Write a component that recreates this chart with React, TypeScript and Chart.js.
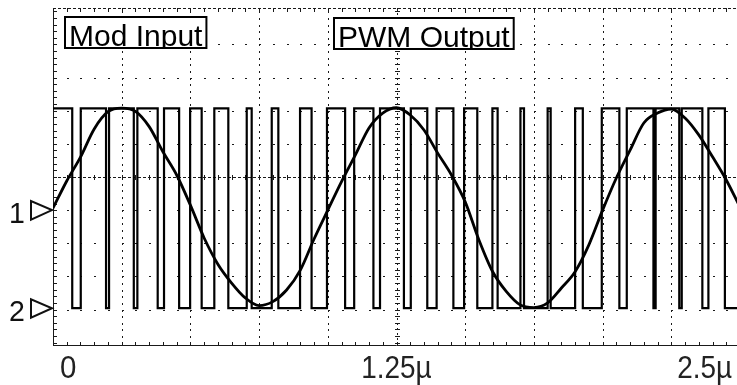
import { useEffect, useRef } from "react";
import { Chart, registerables } from "chart.js";

Chart.register(...registerables);

// ---- data (time in µs, levels in graticule divisions) ----
const sineTimes = [
  0, 0.05, 0.1, 0.15, 0.2, 0.25, 0.3, 0.35, 0.4, 0.45, 0.5, 0.55, 0.6, 0.65, 0.7, 0.75, 0.8,
  0.85, 0.9, 0.95, 1.0, 1.05, 1.1, 1.15, 1.2, 1.25, 1.3, 1.35, 1.4, 1.45, 1.5, 1.55, 1.6, 1.65,
  1.7, 1.75, 1.8, 1.85, 1.9, 1.95, 2.0, 2.05, 2.1, 2.15, 2.2, 2.25, 2.3, 2.35, 2.4, 2.45, 2.5,
];
const sineValues = [
  4.06, 4.88, 5.6, 6.45, 6.97, 7.08, 6.98, 6.52, 5.76, 5.06, 4.15, 3.16, 2.37, 1.8, 1.35, 1.12,
  1.24, 1.59, 2.19, 3.13, 4.0, 4.86, 5.66, 6.48, 6.93, 7.09, 6.87, 6.42, 5.72, 5.06, 4.25, 3.1,
  2.14, 1.54, 1.14, 1.06, 1.2, 1.65, 2.14, 2.95, 4.0, 4.97, 5.81, 6.63, 6.93, 7.05, 6.78, 6.27,
  5.61, 4.91, 4.09,
];
// PWM switching instants (µs), alternating high->low, low->high, starting high
const pwmEdges = [
  0.07, 0.101, 0.193, 0.204, 0.294, 0.307, 0.381, 0.404, 0.459, 0.499, 0.541, 0.587, 0.638, 0.705,
  0.723, 0.796, 0.82, 0.899, 0.941, 0.997, 1.063, 1.096, 1.166, 1.19, 1.277, 1.302, 1.362, 1.396,
  1.457, 1.496, 1.544, 1.599, 1.618, 1.701, 1.714, 1.8, 1.811, 1.9, 1.928, 1.997, 2.061, 2.088,
  2.185, 2.193, 2.279, 2.288, 2.363, 2.385, 2.445,
];
const pwmHigh = 7.07;
const pwmLow = 1.04;
const pwmStartsHigh = true;
const timeEnd = 2.5;

const traceLabels = ["Mod Input", "PWM Output"];
const channelMarkers = ["1", "2"];
const channelLevels = [4.0, pwmLow];
const xTickValues = [0, 1.25, 2.5];
const xTickLabels = ["0", "1.25µ", "2.5µ"];

const X_DIVS = 10;
const X_STEP = 0.25;
const Y_MIN = -0.1;
const Y_MAX = 10.1;

function buildPwm() {
  const pts: { x: number; y: number }[] = [];
  let high = pwmStartsHigh;
  pts.push({ x: 0, y: high ? pwmHigh : pwmLow });
  for (const e of pwmEdges) {
    pts.push({ x: e, y: high ? pwmHigh : pwmLow });
    high = !high;
    pts.push({ x: e, y: high ? pwmHigh : pwmLow });
  }
  pts.push({ x: timeEnd, y: high ? pwmHigh : pwmLow });
  return pts;
}

const LABEL_FONT = "30px 'Liberation Sans', Arial, sans-serif";
const AXIS_FONT = "31px 'Liberation Sans', Arial, sans-serif";

function drawScaledText(ctx: CanvasRenderingContext2D, text: string, x: number, y: number, align: CanvasTextAlign, sx: number) {
  ctx.save();
  ctx.translate(x, y);
  ctx.scale(sx, 1);
  ctx.textAlign = align;
  ctx.textBaseline = "alphabetic";
  ctx.fillText(text, 0, 0);
  ctx.restore();
}

const scopePlugin = {
  id: "scope",
  beforeDatasetsDraw(chart: any) {
    const { ctx, chartArea: a, scales } = chart;
    const xs = scales.x;
    const ys = scales.y;
    ctx.save();
    ctx.fillStyle = "#1a1a1a";
    ctx.strokeStyle = "#1a1a1a";
    // vertical graticule lines
    for (let k = 1; k < X_DIVS; k++) {
      const px = Math.round(xs.getPixelForValue(k * X_STEP));
      const center = k === X_DIVS / 2;
      for (let j = 0; j <= 50; j++) {
        const py = Math.round(ys.getPixelForValue(j * 0.2));
        if (py <= a.top + 1 || py >= a.bottom - 1) continue;
        if (center) ctx.fillRect(px - 2, py, 5, 1);
        else ctx.fillRect(px, py, 1, 2);
      }
      if (center) {
        ctx.save();
        ctx.lineWidth = 1;
        ctx.setLineDash([2, 3]);
        ctx.beginPath();
        ctx.moveTo(px + 0.5, a.top);
        ctx.lineTo(px + 0.5, a.bottom);
        ctx.stroke();
        ctx.restore();
      }
    }
    // horizontal graticule rows
    for (let r = 1; r < 10; r++) {
      const py = Math.round(ys.getPixelForValue(r));
      const center = r === 5;
      for (let j = 0; j <= 50; j++) {
        const px = Math.round(xs.getPixelForValue(j * 0.05));
        if (px <= a.left + 1) continue;
        if (center) ctx.fillRect(px, py - 2, 1, 5);
        else ctx.fillRect(px, py, 2, 1);
      }
      if (center) {
        ctx.save();
        ctx.lineWidth = 1;
        ctx.setLineDash([3, 2]);
        ctx.beginPath();
        ctx.moveTo(a.left, py + 0.5);
        ctx.lineTo(a.right, py + 0.5);
        ctx.stroke();
        ctx.restore();
      }
    }
    // borders with minor ticks
    ctx.lineWidth = 1;
    ctx.beginPath();
    ctx.moveTo(a.left + 0.5, a.top);
    ctx.lineTo(a.left + 0.5, a.bottom);
    ctx.moveTo(a.left, a.bottom - 0.5);
    ctx.lineTo(a.right, a.bottom - 0.5);
    ctx.stroke();
    ctx.save();
    ctx.setLineDash([3, 2]);
    ctx.beginPath();
    ctx.moveTo(a.left, a.top + 0.5);
    ctx.lineTo(a.right, a.top + 0.5);
    ctx.stroke();
    ctx.restore();
    for (let j = 0; j <= 50; j++) {
      const px = Math.round(xs.getPixelForValue(j * 0.05));
      ctx.fillRect(px, a.bottom - 4, 1, 4);
      ctx.fillRect(px, a.top, 1, 4);
    }
    for (let j = 0; j <= 50; j++) {
      const py = Math.round(ys.getPixelForValue(j * 0.2));
      if (py < a.top || py > a.bottom) continue;
      ctx.fillRect(a.left, py, 4, 1);
    }
    ctx.restore();
  },
  afterDatasetsDraw(chart: any) {
    const { ctx, chartArea: a, scales } = chart;
    const xs = scales.x;
    const ys = scales.y;
    ctx.save();
    // trace label boxes
    const boxes = [
      { text: traceLabels[0], left: a.left + 11, top: a.top + 8 },
      { text: traceLabels[1], left: a.left + 280, top: a.top + 9 },
    ];
    ctx.font = LABEL_FONT;
    for (const b of boxes) {
      const w = ctx.measureText(b.text).width;
      const bw = w + 10;
      const bh = 33;
      ctx.fillStyle = "#fff";
      ctx.fillRect(b.left, b.top, bw, bh);
      ctx.save();
      ctx.beginPath();
      ctx.rect(b.left, b.top, bw, bh);
      ctx.clip();
      ctx.fillStyle = "#000";
      drawScaledText(ctx, b.text, b.left + 5, b.top + 30, "left", 1);
      ctx.restore();
      ctx.lineWidth = 2;
      ctx.strokeStyle = "#000";
      ctx.strokeRect(b.left + 1, b.top + 1, bw - 2, bh - 2);
    }
    // channel reference markers
    ctx.font = LABEL_FONT;
    ctx.fillStyle = "#111";
    ctx.strokeStyle = "#111";
    ctx.lineWidth = 2;
    channelMarkers.forEach((m, i) => {
      const py = ys.getPixelForValue(channelLevels[i]);
      drawScaledText(ctx, m, a.left - 36, py + 12.5, "center", 0.95);
      ctx.beginPath();
      ctx.moveTo(a.left - 22, py - 9);
      ctx.lineTo(a.left - 22, py + 9.5);
      ctx.lineTo(a.left - 1, py);
      ctx.closePath();
      ctx.stroke();
    });
    // time axis labels
    ctx.font = AXIS_FONT;
    ctx.fillStyle = "#222";
    xTickValues.forEach((v, i) => {
      const px = xs.getPixelForValue(v);
      const first = i === 0;
      const last = i === xTickValues.length - 1;
      if (first) drawScaledText(ctx, xTickLabels[i], px + 7, a.bottom + 32, "left", 0.95);
      else if (last) drawScaledText(ctx, xTickLabels[i], px - 8, a.bottom + 32, "right", 0.9);
      else drawScaledText(ctx, xTickLabels[i], px, a.bottom + 32, "center", 0.9);
    });
    ctx.restore();
  },
};

export default function App() {
  const canvasRef = useRef<HTMLCanvasElement | null>(null);

  useEffect(() => {
    const canvas = canvasRef.current;
    if (!canvas) return;
    const chart = new Chart(canvas, {
      type: "line",
      data: {
        datasets: [
          {
            label: traceLabels[1],
            data: buildPwm(),
            borderColor: "#000",
            borderWidth: 2.2,
            pointRadius: 0,
            tension: 0,
            fill: false,
          },
          {
            label: traceLabels[0],
            data: sineTimes.map((t, i) => ({ x: t, y: sineValues[i] })),
            borderColor: "#000",
            borderWidth: 2.8,
            pointRadius: 0,
            cubicInterpolationMode: "monotone",
            fill: false,
          },
        ],
      },
      options: {
        responsive: false,
        devicePixelRatio: 1,
        animation: false,
        events: [],
        layout: { padding: { left: 53, top: 8, right: 5, bottom: 39 } },
        scales: {
          x: { type: "linear", min: 0, max: timeEnd, display: false },
          y: { type: "linear", min: Y_MIN, max: Y_MAX, display: false },
        },
        plugins: { legend: { display: false }, tooltip: { enabled: false } },
      },
      plugins: [scopePlugin],
    } as any);
    return () => chart.destroy();
  }, []);

  return (
    <div
      style={{
        position: "fixed",
        left: 0,
        top: 0,
        width: 737,
        height: 385,
        overflow: "hidden",
        background: "#fff",
      }}
    >
      <canvas ref={canvasRef} width={745} height={385} style={{ display: "block" }} />
    </div>
  );
}
